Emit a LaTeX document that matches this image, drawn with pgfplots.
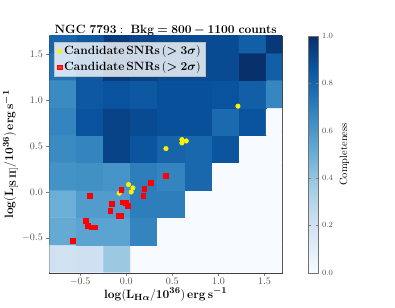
\documentclass[border=0pt]{standalone}
\usepackage{pgfplots}
\pgfplotsset{compat=1.18}
\usepackage{amsmath,bm}
\pgfplotsset{colormap={blues}{rgb255=(247,251,255) rgb255=(222,235,247) rgb255=(198,219,239) rgb255=(158,202,225) rgb255=(107,174,214) rgb255=(66,146,198) rgb255=(33,113,181) rgb255=(8,81,156) rgb255=(8,48,107)}}
\begin{document}
\begin{tikzpicture}
\begin{axis}[
  at={(0pt,0pt)}, anchor=south west,
  scale only axis, width=232.7pt, height=236.7pt,
  xmin=-0.835, xmax=1.69, ymin=-0.88, ymax=1.70,
  axis line style={black!75},
  tick align=outside, xtick pos=bottom, ytick pos=left,
  major tick length=3pt,
  xtick={-0.5,0,0.5,1,1.5}, ytick={-0.5,0,0.5,1,1.5},
  ticklabel style={font=\normalsize, text=black!70},
  xticklabel style={inner sep=1pt, yshift=-1.2pt, /pgf/number format/fixed, /pgf/number format/precision=1, /pgf/number format/fixed zerofill},
  yticklabel style={/pgf/number format/fixed, /pgf/number format/precision=1, /pgf/number format/fixed zerofill},
  xlabel={$\mathbf{log(L_{H\boldsymbol{\alpha}}/10^{36})\,erg\,s^{\boldsymbol{-}1}}$},
  ylabel={$\mathbf{log(L_{[S\,II]}/10^{36})\,erg\,s^{\boldsymbol{-}1}}$},
  label style={font=\fontsize{12.5}{15}\selectfont},
  xlabel style={at={([yshift=-25.5pt]axis description cs:0.5,0)}, anchor=base, inner sep=0pt},
  ylabel style={at={([xshift=-31pt]axis description cs:0,0.5)}, anchor=south, inner sep=0pt},
  colormap name=blues,
  point meta min=0, point meta max=1,
  colorbar,
  colorbar style={
    at={(parent axis.north east)}, anchor=north west, xshift=17.7pt,
    scale only axis, width=10.3pt, height=236.7pt,
    axis line style={black!55},
    ytick={0,0.2,0.4,0.6,0.8,1},
    yticklabel style={font=\fontsize{8.5}{10}\selectfont, text=black!70, /pgf/number format/fixed, /pgf/number format/precision=1, /pgf/number format/fixed zerofill},
    major tick length=3pt,
    ylabel={Completeness},
    ylabel style={font=\fontsize{10.5}{12}\selectfont},
  },
  legend style={at={(0.0202,0.976)}, anchor=north west, font=\fontsize{12.2}{14}\selectfont,
    fill=white, fill opacity=0.8, text opacity=1, draw=black!25, row sep=1.5pt},
  legend cell align=left,
]
\addplot[matrix plot*, mesh/cols=9, point meta=explicit, forget plot] table[meta=c] {
x y c
-0.688 -0.726 0.20
-0.394 -0.726 0.21
-0.100 -0.726 0.38
0.194 -0.726 0
0.488 -0.726 0
0.782 -0.726 0
1.076 -0.726 0
1.370 -0.726 0
1.664 -0.726 0
-0.688 -0.427 0.52
-0.394 -0.427 0.55
-0.100 -0.427 0.55
0.194 -0.427 0.68
0.488 -0.427 0
0.782 -0.427 0
1.076 -0.427 0
1.370 -0.427 0
1.664 -0.427 0
-0.688 -0.129 0.50
-0.394 -0.129 0.58
-0.100 -0.129 0.58
0.194 -0.129 0.70
0.488 -0.129 0.70
0.782 -0.129 0
1.076 -0.129 0
1.370 -0.129 0
1.664 -0.129 0
-0.688 0.170 0.62
-0.394 0.170 0.63
-0.100 0.170 0.61
0.194 0.170 0.70
0.488 0.170 0.68
0.782 0.170 0.79
1.076 0.170 0
1.370 0.170 0
1.664 0.170 0
-0.688 0.468 0.65
-0.394 0.468 0.68
-0.100 0.468 0.93
0.194 0.468 0.86
0.488 0.468 0.80
0.782 0.468 0.79
1.076 0.468 0.86
1.370 0.468 0
1.664 0.468 0
-0.688 0.767 0.68
-0.394 0.767 0.87
-0.100 0.767 0.93
0.194 0.767 0.90
0.488 0.767 0.88
0.782 0.767 0.88
1.076 0.767 0.78
1.370 0.767 0.87
1.664 0.767 0
-0.688 1.065 0.65
-0.394 1.065 0.85
-0.100 1.065 0.87
0.194 1.065 0.85
0.488 1.065 0.88
0.782 1.065 0.88
1.076 1.065 0.87
1.370 1.065 0.82
1.664 1.065 0.67
-0.688 1.364 0.75
-0.394 1.364 0.85
-0.100 1.364 0.96
0.194 1.364 0.93
0.488 1.364 0.90
0.782 1.364 0.90
1.076 1.364 0.90
1.370 1.364 1.00
1.664 1.364 0.82
-0.688 1.662 0.80
-0.394 1.662 0.85
-0.100 1.662 0.96
0.194 1.662 0.92
0.488 1.662 0.90
0.782 1.662 0.90
1.076 1.662 0.90
1.370 1.662 0.82
1.664 1.662 0.97
};
\addplot[only marks, mark=*, mark size=2.3pt, color=yellow, mark options={fill=yellow, draw=yellow}] coordinates {
(1.212,0.935) (0.604,0.571) (0.651,0.556) (0.604,0.534) (0.431,0.473)
(0.025,0.081) (0.072,0.044) (0.054,0.000) (-0.076,-0.014)
};
\addlegendentry{$\mathbf{Candidate\,SNRs\,(\boldsymbol{>}3\boldsymbol{\sigma})}$}
\addplot[only marks, mark=square*, mark size=2.4pt, color=red, mark options={fill=red, draw=red}] coordinates {
(0.431,0.175) (0.268,0.098) (0.195,0.037) (0.184,-0.044) (-0.054,0.026)
(-0.398,-0.044) (-0.160,-0.127) (-0.174,-0.200) (-0.036,-0.112) (-0.007,-0.116)
(0.018,-0.153) (-0.080,-0.262) (-0.054,-0.262) (-0.437,-0.309) (-0.416,-0.367)
(-0.372,-0.385) (-0.336,-0.385) (-0.579,-0.527)
};
\addlegendentry{$\mathbf{Candidate\,SNRs\,(\boldsymbol{>}2\boldsymbol{\sigma})}$}
\end{axis}
\node[anchor=base, inner sep=0pt, font=\fontsize{12.5}{15}\selectfont] at (116.35pt,239.4pt) {$\mathbf{NGC\ 7793:\ Bkg\boldsymbol{=}800\boldsymbol{-}1100\ counts}$};
\path (-49.3pt,-34.3pt) rectangle (345.7pt,272.7pt);
\end{tikzpicture}
\end{document}
